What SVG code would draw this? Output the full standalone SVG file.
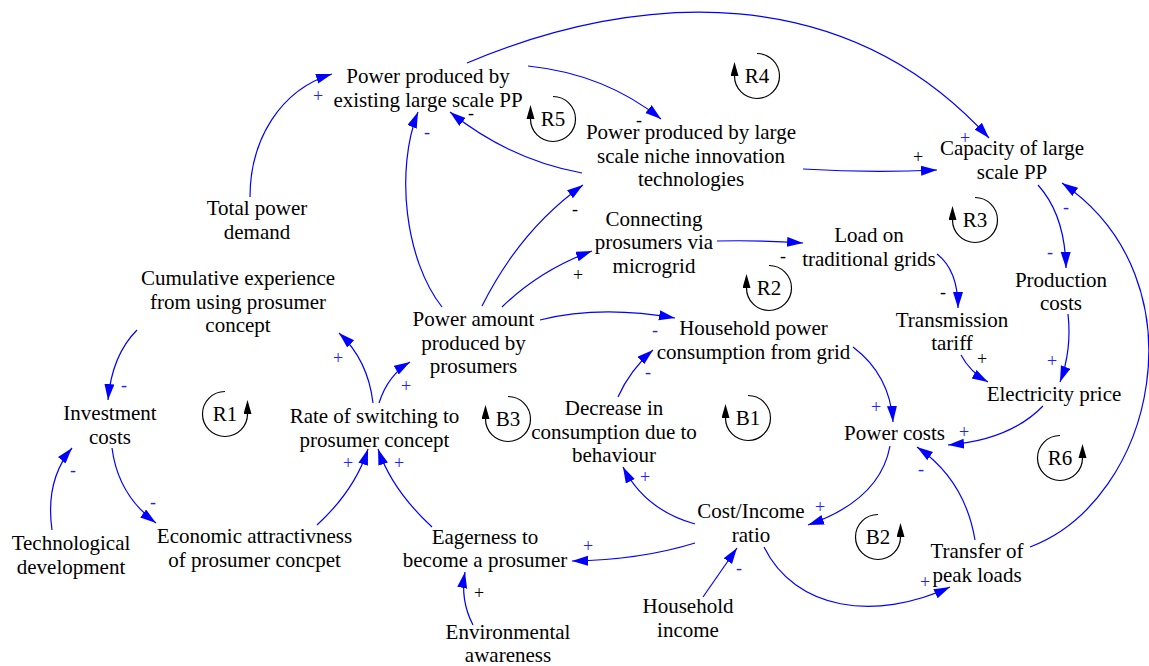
<svg xmlns="http://www.w3.org/2000/svg" width="1149" height="666" viewBox="0 0 1149 666">
<style>
.n text{font-family:"Liberation Serif","Times New Roman",serif;font-size:21px;fill:#000;text-anchor:middle}
.c path{fill:none;stroke:#0000ff;stroke-width:1.2;marker-end:url(#ah)}
.s text{font-family:"Liberation Serif","Times New Roman",serif;font-size:18px;text-anchor:middle}
.s .b{fill:#2020ff}
.s .k{fill:#000}
.lp path{fill:none;stroke:#000;stroke-width:1.2;marker-end:url(#la)}
.lp text{font-family:"Liberation Serif","Times New Roman",serif;font-size:21px;fill:#000;text-anchor:middle}
</style>
<defs>
<marker id="ah" markerUnits="userSpaceOnUse" markerWidth="17" markerHeight="11" refX="16" refY="5" orient="auto">
<path d="M0,0 L16,5 L0,10 z" fill="#0000ff"/>
</marker>
<marker id="la" markerUnits="userSpaceOnUse" markerWidth="15" markerHeight="9" refX="0" refY="4" orient="auto">
<path d="M0,0 L14,4 L0,8 z" fill="#000"/>
</marker>
</defs>
<rect width="1149" height="666" fill="#fff"/>

<g id="connectors" class="c">
<path d="M250,197 C250,140 280,90 332,74"/>
<path d="M467,63 C640,-10 845,-20 989,138"/>
<path d="M528,66 Q605,74 661,119"/>
<path d="M582,173 Q510,160 450,112"/>
<path d="M803,169 Q870,173 937,170"/>
<path d="M442,307 C405,260 395,170 418,112"/>
<path d="M482,306 Q520,230 583,185"/>
<path d="M502,307 Q540,270 592,251"/>
<path d="M540,320 Q600,305 675,318"/>
<path d="M379,403 Q388,375 410,362"/>
<path d="M373,403 Q368,360 339,333"/>
<path d="M137,330 Q112,355 108,400"/>
<path d="M112,448 Q118,495 156,523"/>
<path d="M52,530 Q45,480 72,448"/>
<path d="M317,525 Q355,490 368,449"/>
<path d="M432,527 Q392,490 378,449"/>
<path d="M473,625 Q460,600 465,572"/>
<path d="M695,543 Q640,560 572,561"/>
<path d="M695,524 Q645,510 623,467"/>
<path d="M618,397 Q630,370 653,350"/>
<path d="M853,347 Q890,375 893,422"/>
<path d="M890,446 Q880,500 808,525"/>
<path d="M764,547 C795,610 875,622 950,587"/>
<path d="M975,540 Q965,480 917,447"/>
<path d="M1030,547 C1155,500 1205,280 1062,183"/>
<path d="M1038,185 Q1065,215 1066,268"/>
<path d="M1068,314 Q1072,350 1060,382"/>
<path d="M961,355 Q970,372 988,382"/>
<path d="M937,254 Q958,270 958,308"/>
<path d="M717,241 Q760,240 803,243"/>
<path d="M1043,406 Q1010,440 948,445"/>
<path d="M703,597 L737,548"/>
</g>

<g id="signs" class="s">
<text class="b" x="318" y="102">+</text>
<text class="b" x="427" y="138">-</text>
<text class="k" x="471" y="119">-</text>
<text class="k" x="639" y="126">-</text>
<text class="b" x="965" y="144">+</text>
<text class="k" x="918" y="163">+</text>
<text class="k" x="575" y="215">-</text>
<text class="k" x="578" y="281">+</text>
<text class="k" x="783" y="262">-</text>
<text class="b" x="1066" y="213">-</text>
<text class="b" x="1050" y="258">-</text>
<text class="k" x="943" y="298">-</text>
<text class="k" x="982" y="365">+</text>
<text class="b" x="1052" y="367">+</text>
<text class="b" x="876" y="413">+</text>
<text class="b" x="964" y="438">+</text>
<text class="b" x="921" y="475">-</text>
<text class="b" x="820" y="513">+</text>
<text class="b" x="925" y="588">+</text>
<text class="b" x="739" y="574">-</text>
<text class="b" x="588" y="552">+</text>
<text class="b" x="645" y="483">+</text>
<text class="b" x="648" y="378">-</text>
<text class="b" x="655" y="336">-</text>
<text class="b" x="338" y="364">+</text>
<text class="b" x="406" y="392">+</text>
<text class="b" x="124" y="391">-</text>
<text class="b" x="348" y="469">+</text>
<text class="b" x="399" y="469">+</text>
<text class="b" x="73" y="476">-</text>
<text class="b" x="153" y="508">-</text>
<text class="k" x="479" y="599">+</text>
</g>

<g id="loops" class="lp">
<g id="loop-R1" transform="translate(225,414)"><path d="M0,-22.5 A22.5,22.5 0 1,0 22.5,0"/><text y="7">R1</text></g>
<g id="loop-R2" transform="translate(769,288)"><path d="M0,-22.5 A22.5,22.5 0 1,1 -22.5,0"/><text y="7">R2</text></g>
<g id="loop-R3" transform="translate(975,220)"><path d="M0,-22.5 A22.5,22.5 0 1,1 -22.5,0"/><text y="7">R3</text></g>
<g id="loop-R4" transform="translate(757,76)"><path d="M0,-22.5 A22.5,22.5 0 1,1 -22.5,0"/><text y="7">R4</text></g>
<g id="loop-R5" transform="translate(553,119)"><path d="M0,-22.5 A22.5,22.5 0 1,1 -22.5,0"/><text y="7">R5</text></g>
<g id="loop-R6" transform="translate(1060,458)"><path d="M0,-22.5 A22.5,22.5 0 1,0 22.5,0"/><text y="7">R6</text></g>
<g id="loop-B1" transform="translate(748,418)"><path d="M0,-22.5 A22.5,22.5 0 1,1 -22.5,0"/><text y="7">B1</text></g>
<g id="loop-B2" transform="translate(878,537)"><path d="M0,-22.5 A22.5,22.5 0 1,0 22.5,0"/><text y="7">B2</text></g>
<g id="loop-B3" transform="translate(508,419)"><path d="M0,-22.5 A22.5,22.5 0 1,1 -22.5,0"/><text y="7">B3</text></g>
</g>

<g id="n-existing" class="n"><text><tspan x="428" y="83">Power produced by</tspan><tspan x="428" y="106.5">existing large scale PP</tspan></text></g>
<g id="n-niche" class="n"><text><tspan x="691" y="139">Power produced by large</tspan><tspan x="691" y="162.5">scale niche innovation</tspan><tspan x="691" y="186">technologies</tspan></text></g>
<g id="n-capacity" class="n"><text><tspan x="1012" y="155">Capacity of large</tspan><tspan x="1012" y="179">scale PP</tspan></text></g>
<g id="n-demand" class="n"><text><tspan x="257" y="215">Total power</tspan><tspan x="257" y="238.5">demand</tspan></text></g>
<g id="n-cumulative" class="n"><text><tspan x="238" y="285">Cumulative experience</tspan><tspan x="238" y="308.5">from using prosumer</tspan><tspan x="238" y="332">concept</tspan></text></g>
<g id="n-investment" class="n"><text><tspan x="110" y="420">Investment</tspan><tspan x="110" y="443.5">costs</tspan></text></g>
<g id="n-rate" class="n"><text><tspan x="374.5" y="423">Rate of switching to</tspan><tspan x="374.5" y="446.5">prosumer concept</tspan></text></g>
<g id="n-amount" class="n"><text><tspan x="473.5" y="326">Power amount</tspan><tspan x="473.5" y="349.5">produced by</tspan><tspan x="473.5" y="373">prosumers</tspan></text></g>
<g id="n-connecting" class="n"><text><tspan x="654" y="225.5">Connecting</tspan><tspan x="654" y="249">prosumers via</tspan><tspan x="654" y="272.5">microgrid</tspan></text></g>
<g id="n-load" class="n"><text><tspan x="869" y="242">Load on</tspan><tspan x="869" y="265.5">traditional grids</tspan></text></g>
<g id="n-production" class="n"><text><tspan x="1061" y="287">Production</tspan><tspan x="1061" y="310">costs</tspan></text></g>
<g id="n-tariff" class="n"><text><tspan x="952" y="327">Transmission</tspan><tspan x="952" y="350">tariff</tspan></text></g>
<g id="n-price" class="n"><text x="1054" y="401">Electricity price</text></g>
<g id="n-powercosts" class="n"><text x="894.5" y="440">Power costs</text></g>
<g id="n-household" class="n"><text><tspan x="753.5" y="335">Household power</tspan><tspan x="753.5" y="358.5">consumption from grid</tspan></text></g>
<g id="n-decrease" class="n"><text><tspan x="614" y="415">Decrease in</tspan><tspan x="614" y="438.5">consumption due to</tspan><tspan x="614" y="462">behaviour</tspan></text></g>
<g id="n-ratio" class="n"><text><tspan x="751" y="518">Cost/Income</tspan><tspan x="751" y="541.5">ratio</tspan></text></g>
<g id="n-income" class="n"><text><tspan x="688" y="613">Household</tspan><tspan x="688" y="636.5">income</tspan></text></g>
<g id="n-transfer" class="n"><text><tspan x="977" y="558">Transfer of</tspan><tspan x="977" y="581.5">peak loads</tspan></text></g>
<g id="n-eagerness" class="n"><text><tspan x="485" y="544">Eagerness to</tspan><tspan x="485" y="567">become a prosumer</tspan></text></g>
<g id="n-economic" class="n"><text><tspan x="254.5" y="543">Economic attractivness</tspan><tspan x="254.5" y="566.5">of prosumer concpet</tspan></text></g>
<g id="n-tech" class="n"><text><tspan x="71" y="550">Technological</tspan><tspan x="71" y="573.5">development</tspan></text></g>
<g id="n-environmental" class="n"><text><tspan x="508" y="639">Environmental</tspan><tspan x="508" y="661.5">awareness</tspan></text></g>
</svg>
